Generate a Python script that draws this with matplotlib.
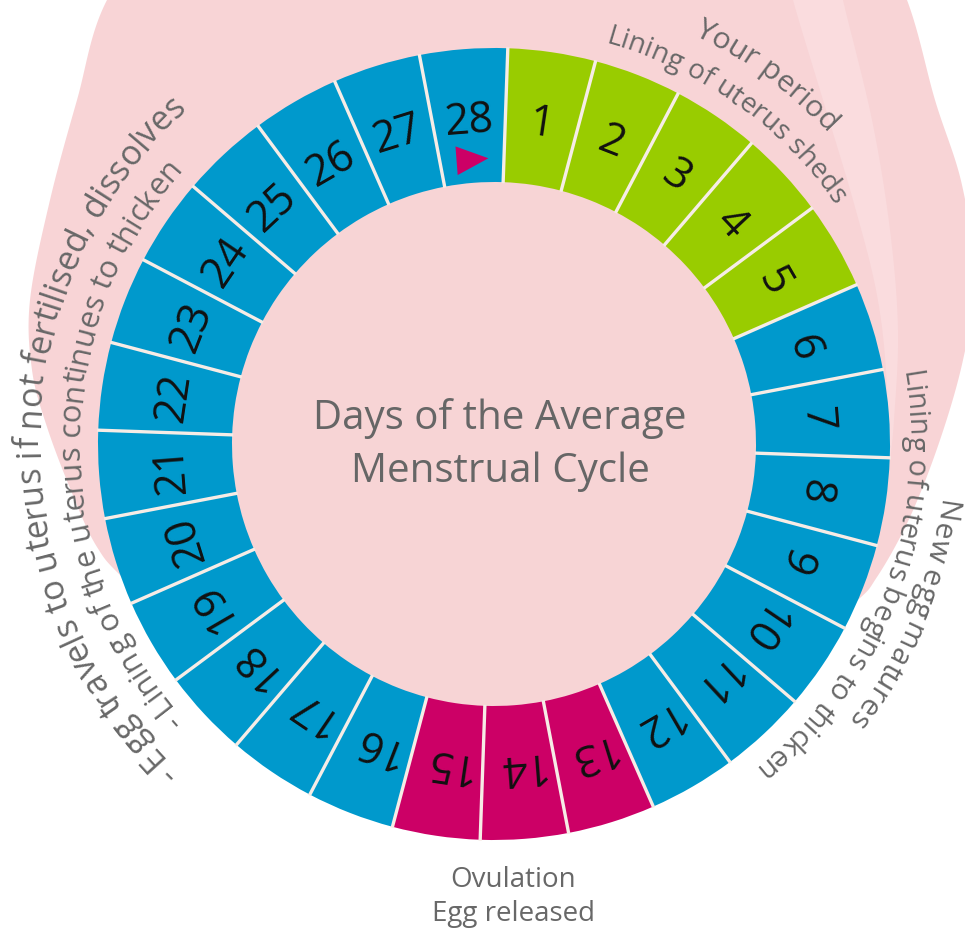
import numpy as np
import matplotlib
matplotlib.use("Agg")
import matplotlib.pyplot as plt
from matplotlib import font_manager
from matplotlib.ft2font import FT2Font
from matplotlib.markers import MarkerStyle
from matplotlib.transforms import Affine2D

# ---------------- data ----------------
days = list(range(1, 29))
day_phase = ["period"] * 5 + ["follicular"] * 7 + ["ovulation"] * 3 + ["luteal"] * 13
phase_colors = {"period": "#99cc00", "follicular": "#0099cc",
                "ovulation": "#cc0066", "luteal": "#0099cc"}
marker_day = 28
title_lines = ["Days of the Average", "Menstrual Cycle"]
bottom_lines = ["Ovulation", "Egg released"]
arc_texts = ["Your period",
             "Lining of uterus sheds",
             "Lining of uterus begins to thicken",
             "New egg matures",
             "- Egg travels to uterus if not fertilised, dissolves",
             "- Lining of the uterus continues to thicken"]

# ---------------- layout / style ----------------
W, H, DPI = 965, 935, 100
CX, CY = 494, 444
R_IN, R_OUT = 262, 396
THETA0 = 2.0
FONT = "Open Sans"
PINK = "#f8d4d6"
INNER_PINK = "#f7d4d5"
BAND_PINK = "#fadcde"
SEP = "#f6ece6"
GREY = "#686868"
# (start angle, end angle clockwise from top, baseline radius)
arc_layout = [(26.0, 47.0, 455), (15.5, 55.0, 416), (80.0, 141.5, 414),
              (97.0, 128.0, 448), (224.0, 317.5, 455), (228.5, 311.5, 415)]

fig = plt.figure(figsize=(W / DPI, H / DPI), dpi=DPI)
fig.patch.set_facecolor("white")

# background decorative blob
bg = fig.add_axes([0, 0, 1, 1])
bg.set_xlim(0, W)
bg.set_ylim(H, 0)
bg.axis("off")


def catmull(pts, closed=True, n=30):
    pts = np.asarray(pts, float)
    if closed:
        P = np.vstack([pts[-1], pts, pts[0], pts[1]])
    else:
        P = np.vstack([pts[0], pts, pts[-1]])
    out = []
    for i in range(1, len(P) - 2):
        p0, p1, p2, p3 = P[i - 1], P[i], P[i + 1], P[i + 2]
        t = np.linspace(0, 1, n, endpoint=False)[:, None]
        out.append(0.5 * ((2 * p1) + (-p0 + p2) * t + (2 * p0 - 5 * p1 + 4 * p2 - p3) * t ** 2
                          + (-p0 + 3 * p1 - 3 * p2 + p3) * t ** 3))
    out = np.vstack(out)
    if not closed:
        out = np.vstack([out, pts[-1]])
    return out


blob = catmull([(180, -100), (107, 0), (77, 100), (50, 200), (30, 300), (32, 370),
                (47, 427), (72, 493), (97, 547), (130, 585), (250, 700), (494, 730),
                (740, 700), (850, 607), (877, 577), (910, 517), (940, 440), (963, 360),
                (975, 280), (962, 185), (935, 100), (907, 0), (860, -100), (494, -150)])
bg.fill(blob[:, 0], blob[:, 1], color=PINK, lw=0)
band_l = catmull([(788, -30), (793, 0), (823, 100), (853, 200), (876, 290), (886, 370),
                  (889, 470)], closed=False)
band_r = catmull([(889, 470), (894, 420), (898, 330), (890, 230), (872, 120), (843, 0),
                  (838, -30)], closed=False)
band = np.vstack([band_l, band_r])
bg.fill(band[:, 0], band[:, 1], color=BAND_PINK, lw=0)

# polar axes for the cycle ring (1 radial unit = 1 pixel)
RP = 480
pax = fig.add_axes([(CX - RP) / W, (H - CY - RP) / H, 2 * RP / W, 2 * RP / H],
                   projection="polar")
pax.set_theta_zero_location("N")
pax.set_theta_direction(-1)
pax.set_ylim(0, RP)
pax.set_axis_off()

n = len(days)
w = 2 * np.pi / n
theta_c = np.radians(THETA0) + (np.array(days) - 0.5) * w
cols = [phase_colors[p] for p in day_phase]

pax.bar(0, R_IN, width=2 * np.pi, bottom=0, color=INNER_PINK, lw=0, zorder=1)
pax.bar(theta_c, R_OUT - R_IN, width=w, bottom=R_IN, color=cols, lw=0, zorder=2)
bounds = np.radians(THETA0) + np.arange(n) * w
pax.vlines(bounds, R_IN - 1, R_OUT + 1, colors=SEP, lw=2.4, zorder=3)

for d, th in zip(days, theta_c):
    pax.text(th, 312, str(d), rotation=-np.degrees(th), rotation_mode="anchor",
             ha="center", va="baseline", fontsize=31, family=FONT,
             color="#111111", zorder=4)

thm = theta_c[days.index(marker_day)]
tri = MarkerStyle([(-1, -0.9), (1, 0), (-1, 0.9), (-1, -0.9)],
                  transform=Affine2D().rotate_deg(-np.degrees(thm)))
pax.plot([thm], [286], marker=tri, markersize=23, color="#cc0066",
         markeredgewidth=0, lw=0, zorder=5)

# curved labels
fpath = font_manager.findfont(font_manager.FontProperties(family=FONT))
ft = FT2Font(fpath)
ft.set_size(100, 72)


def adv_em(ch):
    return ft.load_char(ord(ch)).linearHoriAdvance / 65536 / 100


def arc_text(text, t0, t1, rb):
    a = np.array([adv_em(c) for c in text])
    arc_px = np.radians(t1 - t0) * rb
    fs_px = arc_px / a.sum()
    pos = (np.cumsum(a) - a / 2) * fs_px
    for ch, p in zip(text, pos):
        if ch == " ":
            continue
        th = np.radians(t0) + p / rb
        pax.text(th, rb, ch, rotation=-np.degrees(th), rotation_mode="anchor",
                 ha="center", va="baseline", fontsize=fs_px * 72 / DPI,
                 family=FONT, color=GREY, zorder=6)


for txt, (t0, t1, rb) in zip(arc_texts, arc_layout):
    arc_text(txt, t0, t1, rb)

fig.text(500 / W, 1 - 445 / H, "\n".join(title_lines), ha="center", va="center",
         fontsize=29, linespacing=1.38, color="#666666", family=FONT)
fig.text(513 / W, 1 - 880 / H, bottom_lines[0], ha="center", va="center",
         fontsize=20, color=GREY, family=FONT)
fig.text(513 / W, 1 - 914 / H, bottom_lines[1], ha="center", va="center",
         fontsize=20, color=GREY, family=FONT)

fig.savefig("out.png", dpi=DPI, facecolor="white")
